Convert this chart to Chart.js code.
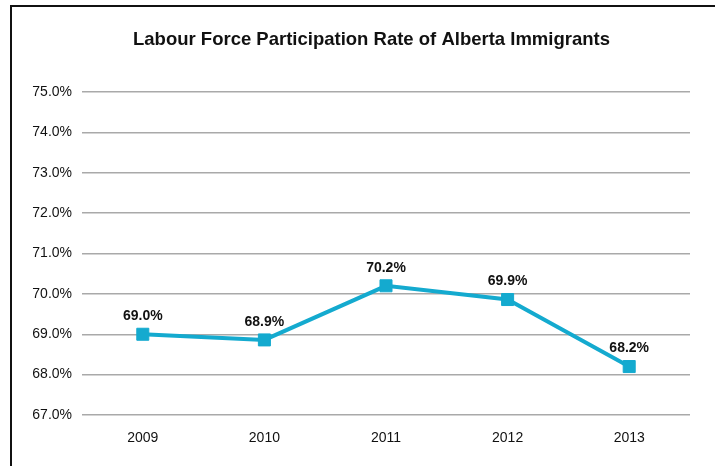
<!DOCTYPE html>
<html>
<head>
<meta charset="utf-8">
<script src="https://cdn.jsdelivr.net/npm/chart.js@4"></script>
<style>
  html, body { margin: 0; padding: 0; background: #fff; }
  #wrap { position: relative; width: 715px; height: 466px; overflow: hidden; }
  #frame {
    position: absolute; left: 10px; top: 5px; width: 720px; height: 480px;
    border-left: 2px solid #111; border-top: 2px solid #111; pointer-events: none;
  }
</style>
</head>
<body>
<div id="wrap">
  <canvas id="rateChart" width="715" height="466"></canvas>
  <div id="frame"></div>
</div>
<script>
const years = ['2009', '2010', '2011', '2012', '2013'];
const participationRate = [69.0, 68.86, 70.2, 69.86, 68.2];
const yMin = 67;
const yMax = 75;
const chartTitle = 'Labour Force Participation Rate of Alberta Immigrants';

// draws the value labels above each point
const valueLabels = {
    id: 'valueLabels',
    afterDatasetsDraw(chart) {
        const ctx = chart.ctx;
        const meta = chart.getDatasetMeta(0);
        ctx.save();
        ctx.font = 'bold 14px "Liberation Sans", Arial, sans-serif';
        ctx.fillStyle = '#111';
        ctx.textAlign = 'center';
        ctx.textBaseline = 'middle';
        meta.data.forEach((pt, i) => {
            ctx.fillText(participationRate[i].toFixed(1) + '%', pt.x, pt.y - 18);
        });
        ctx.restore();
    }
};

// title is centred on the frame, not on the canvas, so draw it by hand
const frameTitle = {
    id: 'frameTitle',
    afterDraw(chart) {
        const ctx = chart.ctx;
        ctx.save();
        ctx.font = 'bold 18.5px "Liberation Sans", Arial, sans-serif';
        ctx.fillStyle = '#111';
        ctx.textAlign = 'center';
        ctx.textBaseline = 'middle';
        ctx.fillText(chartTitle, 371.5, 40);
        ctx.restore();
    }
};

const ctx = document.querySelector('#rateChart').getContext('2d');

new Chart(ctx, {
    type: 'line',
    data: {
        labels: years,
        datasets: [{
            label: 'Participation rate',
            data: participationRate,
            borderColor: '#14AACF',
            backgroundColor: '#14AACF',
            borderWidth: 4,
            pointStyle: 'rect',
            pointRadius: 8.5,
            pointBorderWidth: 1,
            pointBorderColor: '#14AACF',
            pointBackgroundColor: '#14AACF',
            tension: 0
        }]
    },
    options: {
        responsive: false,
        animation: false,
        layout: { padding: { left: 0, right: 25, top: 92, bottom: 0 } },
        scales: {
            x: {
                offset: true,
                grid: { display: false, drawTicks: false },
                border: { display: false },
                ticks: {
                    color: '#111',
                    padding: 15,
                    font: { family: '"Liberation Sans", Arial, sans-serif', size: 14 }
                },
                afterFit(scale) { scale.height = 51; }
            },
            y: {
                min: yMin,
                max: yMax,
                grid: { color: '#A9A9A9', lineWidth: 1.5, drawTicks: false },
                border: { display: false },
                ticks: {
                    stepSize: 1,
                    color: '#111',
                    padding: 10,
                    font: { family: '"Liberation Sans", Arial, sans-serif', size: 14 },
                    callback: (v) => v.toFixed(1) + '%'
                },
                afterFit(scale) { scale.width = 82; }
            }
        },
        plugins: {
            legend: { display: false },
            tooltip: { enabled: false },
            title: { display: false }
        }
    },
    plugins: [valueLabels, frameTitle]
});
</script>
</body>
</html>
